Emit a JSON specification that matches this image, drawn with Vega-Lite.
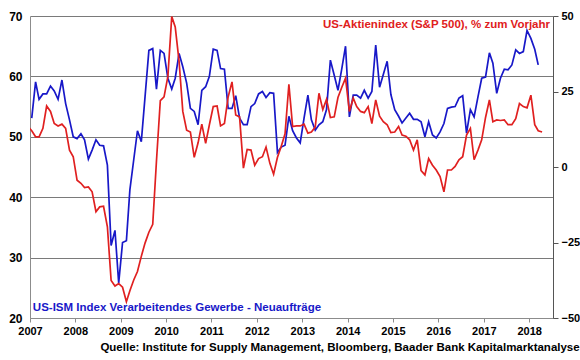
{
  "$schema": "https://vega.github.io/schema/vega-lite/v6.json",
  "width": 523,
  "height": 302,
  "autosize": {"type": "none"},
  "padding": {"left": 30, "top": 16, "right": 27, "bottom": 42},
  "background": "white",
  "config": {"view": {"stroke": null}, "font": "Liberation Sans"},
  "title": {
    "text": "Quelle: Institute for Supply Management, Bloomberg, Baader Bank Kapitalmarktanalyse",
    "orient": "bottom",
    "anchor": "end",
    "frame": "bounds",
    "font": "Liberation Sans",
    "fontSize": 11.5,
    "fontWeight": "bold",
    "color": "#000000",
    "offset": 6
  },
  "datasets": {
    "ism": [
      {"date": "2007-01-15", "value": 53.1}, {"date": "2007-02-15", "value": 59.1}, {"date": "2007-03-15", "value": 56.2}, {"date": "2007-04-15", "value": 57.1}, {"date": "2007-05-15", "value": 57.1}, {"date": "2007-06-15", "value": 58.4}, {"date": "2007-07-15", "value": 57.6}, {"date": "2007-08-15", "value": 56.2}, {"date": "2007-09-15", "value": 59.4}, {"date": "2007-10-15", "value": 55.5}, {"date": "2007-11-15", "value": 52.8}, {"date": "2007-12-15", "value": 50.0},
      {"date": "2008-01-15", "value": 49.7}, {"date": "2008-02-15", "value": 50.5}, {"date": "2008-03-15", "value": 49.5}, {"date": "2008-04-15", "value": 46.3}, {"date": "2008-05-15", "value": 47.8}, {"date": "2008-06-15", "value": 49.5}, {"date": "2008-07-15", "value": 48.6}, {"date": "2008-08-15", "value": 48.5}, {"date": "2008-09-15", "value": 45.3}, {"date": "2008-10-15", "value": 32.0}, {"date": "2008-11-15", "value": 34.5}, {"date": "2008-12-15", "value": 25.8},
      {"date": "2009-01-15", "value": 32.5}, {"date": "2009-02-15", "value": 32.8}, {"date": "2009-03-15", "value": 41.2}, {"date": "2009-04-15", "value": 46.2}, {"date": "2009-05-15", "value": 51.0}, {"date": "2009-06-15", "value": 49.2}, {"date": "2009-07-15", "value": 56.6}, {"date": "2009-08-15", "value": 64.3}, {"date": "2009-09-15", "value": 64.6}, {"date": "2009-10-15", "value": 57.9}, {"date": "2009-11-15", "value": 64.3}, {"date": "2009-12-15", "value": 63.8},
      {"date": "2010-01-15", "value": 59.7}, {"date": "2010-02-15", "value": 57.9}, {"date": "2010-03-15", "value": 59.7}, {"date": "2010-04-15", "value": 63.8}, {"date": "2010-05-15", "value": 61.6}, {"date": "2010-06-15", "value": 58.9}, {"date": "2010-07-15", "value": 54.7}, {"date": "2010-08-15", "value": 54.2}, {"date": "2010-09-15", "value": 52.0}, {"date": "2010-10-15", "value": 57.7}, {"date": "2010-11-15", "value": 58.3}, {"date": "2010-12-15", "value": 60.0},
      {"date": "2011-01-15", "value": 64.5}, {"date": "2011-02-15", "value": 64.3}, {"date": "2011-03-15", "value": 61.3}, {"date": "2011-04-15", "value": 61.2}, {"date": "2011-05-15", "value": 54.7}, {"date": "2011-06-15", "value": 54.7}, {"date": "2011-07-15", "value": 56.8}, {"date": "2011-08-15", "value": 53.1}, {"date": "2011-09-15", "value": 52.0}, {"date": "2011-10-15", "value": 52.0}, {"date": "2011-11-15", "value": 55.0}, {"date": "2011-12-15", "value": 55.5},
      {"date": "2012-01-15", "value": 57.1}, {"date": "2012-02-15", "value": 57.5}, {"date": "2012-03-15", "value": 56.5}, {"date": "2012-04-15", "value": 57.3}, {"date": "2012-05-15", "value": 57.2}, {"date": "2012-06-15", "value": 47.4}, {"date": "2012-07-15", "value": 48.3}, {"date": "2012-08-15", "value": 48.6}, {"date": "2012-09-15", "value": 53.4}, {"date": "2012-10-15", "value": 51.0}, {"date": "2012-11-15", "value": 49.8}, {"date": "2012-12-15", "value": 49.0},
      {"date": "2013-01-15", "value": 53.1}, {"date": "2013-02-15", "value": 56.9}, {"date": "2013-03-15", "value": 52.8}, {"date": "2013-04-15", "value": 51.1}, {"date": "2013-05-15", "value": 52.0}, {"date": "2013-06-15", "value": 52.5}, {"date": "2013-07-15", "value": 54.5}, {"date": "2013-08-15", "value": 62.7}, {"date": "2013-09-15", "value": 60.2}, {"date": "2013-10-15", "value": 57.7}, {"date": "2013-11-15", "value": 61.3}, {"date": "2013-12-15", "value": 65.0},
      {"date": "2014-01-15", "value": 53.3}, {"date": "2014-02-15", "value": 56.9}, {"date": "2014-03-15", "value": 56.9}, {"date": "2014-04-15", "value": 56.4}, {"date": "2014-05-15", "value": 57.7}, {"date": "2014-06-15", "value": 56.4}, {"date": "2014-07-15", "value": 57.5}, {"date": "2014-08-15", "value": 65.2}, {"date": "2014-09-15", "value": 58.2}, {"date": "2014-10-15", "value": 60.3}, {"date": "2014-11-15", "value": 62.5}, {"date": "2014-12-15", "value": 57.0},
      {"date": "2015-01-15", "value": 54.5}, {"date": "2015-02-15", "value": 53.4}, {"date": "2015-03-15", "value": 52.3}, {"date": "2015-04-15", "value": 53.1}, {"date": "2015-05-15", "value": 53.9}, {"date": "2015-06-15", "value": 52.9}, {"date": "2015-07-15", "value": 52.9}, {"date": "2015-08-15", "value": 52.5}, {"date": "2015-09-15", "value": 50.0}, {"date": "2015-10-15", "value": 52.5}, {"date": "2015-11-15", "value": 50.3}, {"date": "2015-12-15", "value": 49.8},
      {"date": "2016-01-15", "value": 50.8}, {"date": "2016-02-15", "value": 52.2}, {"date": "2016-03-15", "value": 54.7}, {"date": "2016-04-15", "value": 54.9}, {"date": "2016-05-15", "value": 55.0}, {"date": "2016-06-15", "value": 56.4}, {"date": "2016-07-15", "value": 56.8}, {"date": "2016-08-15", "value": 50.6}, {"date": "2016-09-15", "value": 54.5}, {"date": "2016-10-15", "value": 53.3}, {"date": "2016-11-15", "value": 56.6}, {"date": "2016-12-15", "value": 59.7},
      {"date": "2017-01-15", "value": 59.9}, {"date": "2017-02-15", "value": 63.9}, {"date": "2017-03-15", "value": 62.2}, {"date": "2017-04-15", "value": 57.2}, {"date": "2017-05-15", "value": 59.7}, {"date": "2017-06-15", "value": 61.2}, {"date": "2017-07-15", "value": 61.1}, {"date": "2017-08-15", "value": 61.9}, {"date": "2017-09-15", "value": 64.4}, {"date": "2017-10-15", "value": 63.8}, {"date": "2017-11-15", "value": 64.1}, {"date": "2017-12-15", "value": 67.6},
      {"date": "2018-01-15", "value": 66.3}, {"date": "2018-02-15", "value": 64.5}, {"date": "2018-03-15", "value": 61.9}
    ],
    "spx": [
      {"date": "2006-12-15", "value": 13.4},
      {"date": "2007-01-15", "value": 12.0}, {"date": "2007-02-15", "value": 10.0}, {"date": "2007-03-15", "value": 10.0}, {"date": "2007-04-15", "value": 12.8}, {"date": "2007-05-15", "value": 20.2}, {"date": "2007-06-15", "value": 18.4}, {"date": "2007-07-15", "value": 14.4}, {"date": "2007-08-15", "value": 13.6}, {"date": "2007-09-15", "value": 14.2}, {"date": "2007-10-15", "value": 12.8}, {"date": "2007-11-15", "value": 5.6}, {"date": "2007-12-15", "value": 3.4},
      {"date": "2008-01-15", "value": -4.4}, {"date": "2008-02-15", "value": -5.4}, {"date": "2008-03-15", "value": -6.8}, {"date": "2008-04-15", "value": -6.6}, {"date": "2008-05-15", "value": -8.2}, {"date": "2008-06-15", "value": -14.8}, {"date": "2008-07-15", "value": -13.2}, {"date": "2008-08-15", "value": -13.0}, {"date": "2008-09-15", "value": -19.8}, {"date": "2008-10-15", "value": -37.6}, {"date": "2008-11-15", "value": -39.4}, {"date": "2008-12-15", "value": -38.6},
      {"date": "2009-01-15", "value": -39.8}, {"date": "2009-02-15", "value": -44.6}, {"date": "2009-03-15", "value": -41.0}, {"date": "2009-04-15", "value": -37.4}, {"date": "2009-05-15", "value": -34.6}, {"date": "2009-06-15", "value": -29.6}, {"date": "2009-07-15", "value": -25.2}, {"date": "2009-08-15", "value": -21.6}, {"date": "2009-09-15", "value": -19.0}, {"date": "2009-10-15", "value": 2.0}, {"date": "2009-11-15", "value": 22.0}, {"date": "2009-12-15", "value": 23.2},
      {"date": "2010-01-15", "value": 30.0}, {"date": "2010-02-15", "value": 49.8}, {"date": "2010-03-15", "value": 46.4}, {"date": "2010-04-15", "value": 35.0}, {"date": "2010-05-15", "value": 18.4}, {"date": "2010-06-15", "value": 12.2}, {"date": "2010-07-15", "value": 11.6}, {"date": "2010-08-15", "value": 3.2}, {"date": "2010-09-15", "value": 8.0}, {"date": "2010-10-15", "value": 14.2}, {"date": "2010-11-15", "value": 7.8}, {"date": "2010-12-15", "value": 14.0},
      {"date": "2011-01-15", "value": 20.0}, {"date": "2011-02-15", "value": 20.2}, {"date": "2011-03-15", "value": 13.6}, {"date": "2011-04-15", "value": 14.4}, {"date": "2011-05-15", "value": 23.2}, {"date": "2011-06-15", "value": 28.2}, {"date": "2011-07-15", "value": 17.2}, {"date": "2011-08-15", "value": 16.6}, {"date": "2011-09-15", "value": -0.4}, {"date": "2011-10-15", "value": 5.8}, {"date": "2011-11-15", "value": 5.6}, {"date": "2011-12-15", "value": 0.6},
      {"date": "2012-01-15", "value": 2.8}, {"date": "2012-02-15", "value": 3.4}, {"date": "2012-03-15", "value": 6.6}, {"date": "2012-04-15", "value": 1.2}, {"date": "2012-05-15", "value": -2.4}, {"date": "2012-06-15", "value": 3.2}, {"date": "2012-07-15", "value": 6.8}, {"date": "2012-08-15", "value": 11.0}, {"date": "2012-09-15", "value": 27.4}, {"date": "2012-10-15", "value": 13.4}, {"date": "2012-11-15", "value": 13.6}, {"date": "2012-12-15", "value": 13.6},
      {"date": "2013-01-15", "value": 14.2}, {"date": "2013-02-15", "value": 11.2}, {"date": "2013-03-15", "value": 11.6}, {"date": "2013-04-15", "value": 13.2}, {"date": "2013-05-15", "value": 24.4}, {"date": "2013-06-15", "value": 19.0}, {"date": "2013-07-15", "value": 22.4}, {"date": "2013-08-15", "value": 16.4}, {"date": "2013-09-15", "value": 16.6}, {"date": "2013-10-15", "value": 23.0}, {"date": "2013-11-15", "value": 26.4}, {"date": "2013-12-15", "value": 29.4},
      {"date": "2014-01-15", "value": 18.4}, {"date": "2014-02-15", "value": 22.8}, {"date": "2014-03-15", "value": 20.0}, {"date": "2014-04-15", "value": 18.4}, {"date": "2014-05-15", "value": 18.0}, {"date": "2014-06-15", "value": 20.0}, {"date": "2014-07-15", "value": 14.4}, {"date": "2014-08-15", "value": 22.2}, {"date": "2014-09-15", "value": 16.8}, {"date": "2014-10-15", "value": 15.0}, {"date": "2014-11-15", "value": 14.0}, {"date": "2014-12-15", "value": 11.4},
      {"date": "2015-01-15", "value": 11.6}, {"date": "2015-02-15", "value": 13.4}, {"date": "2015-03-15", "value": 10.6}, {"date": "2015-04-15", "value": 10.2}, {"date": "2015-05-15", "value": 9.0}, {"date": "2015-06-15", "value": 5.6}, {"date": "2015-07-15", "value": 9.0}, {"date": "2015-08-15", "value": -1.2}, {"date": "2015-09-15", "value": -2.6}, {"date": "2015-10-15", "value": 2.8}, {"date": "2015-11-15", "value": 0.6}, {"date": "2015-12-15", "value": -1.0},
      {"date": "2016-01-15", "value": -3.2}, {"date": "2016-02-15", "value": -8.2}, {"date": "2016-03-15", "value": -1.0}, {"date": "2016-04-15", "value": -1.0}, {"date": "2016-05-15", "value": 0.2}, {"date": "2016-06-15", "value": 2.4}, {"date": "2016-07-15", "value": 3.4}, {"date": "2016-08-15", "value": 10.6}, {"date": "2016-09-15", "value": 12.8}, {"date": "2016-10-15", "value": 2.4}, {"date": "2016-11-15", "value": 5.6}, {"date": "2016-12-15", "value": 9.0},
      {"date": "2017-01-15", "value": 16.4}, {"date": "2017-02-15", "value": 22.2}, {"date": "2017-03-15", "value": 15.0}, {"date": "2017-04-15", "value": 15.6}, {"date": "2017-05-15", "value": 15.4}, {"date": "2017-06-15", "value": 15.6}, {"date": "2017-07-15", "value": 14.0}, {"date": "2017-08-15", "value": 14.0}, {"date": "2017-09-15", "value": 16.0}, {"date": "2017-10-15", "value": 21.0}, {"date": "2017-11-15", "value": 20.0}, {"date": "2017-12-15", "value": 19.6},
      {"date": "2018-01-15", "value": 23.8}, {"date": "2018-02-15", "value": 14.0}, {"date": "2018-03-15", "value": 12.0}, {"date": "2018-04-15", "value": 11.6}
    ]
  },
  "layer": [
    {
      "layer": [
        {
          "data": {"name": "ism"},
          "mark": {"type": "line", "color": "#1818c8", "strokeWidth": 1.7, "clip": true},
          "encoding": {
            "x": {
              "field": "date", "type": "temporal",
              "scale": {"type": "utc", "domain": [{"year": 2007, "month": 1, "date": 1, "utc": true}, {"year": 2018, "month": 7, "date": 12, "utc": true}]},
              "axis": {
                "title": null, "format": "%Y", "formatType": "utc",
                "values": [
                  {"year": 2007, "month": 1, "date": 1, "utc": true}, {"year": 2008, "month": 1, "date": 1, "utc": true}, {"year": 2009, "month": 1, "date": 1, "utc": true}, {"year": 2010, "month": 1, "date": 1, "utc": true}, {"year": 2011, "month": 1, "date": 1, "utc": true}, {"year": 2012, "month": 1, "date": 1, "utc": true}, {"year": 2013, "month": 1, "date": 1, "utc": true}, {"year": 2014, "month": 1, "date": 1, "utc": true}, {"year": 2015, "month": 1, "date": 1, "utc": true}, {"year": 2016, "month": 1, "date": 1, "utc": true}, {"year": 2017, "month": 1, "date": 1, "utc": true}, {"year": 2018, "month": 1, "date": 1, "utc": true}
                ],
                "grid": false, "domainColor": "#8c8c8c", "tickColor": "#8c8c8c", "tickSize": 4,
                "labelFont": "Liberation Sans", "labelFontWeight": "bold", "labelFontSize": 11, "labelColor": "#000000", "labelPadding": 3,
                "labelFlush": false, "labelOverlap": false
              }
            },
            "y": {
              "field": "value", "type": "quantitative",
              "scale": {"domain": [20, 70], "nice": false, "zero": false},
              "axis": {
                "title": null, "values": [20, 30, 40, 50, 60, 70], "grid": true, "gridColor": "#7a7a7a", "gridWidth": 1,
                "ticks": false, "tickSize": 0, "domainColor": "#8c8c8c",
                "labelFont": "Liberation Sans", "labelFontWeight": "bold", "labelFontSize": 12, "labelColor": "#000000", "labelPadding": 8
              }
            }
          }
        },
        {
          "data": {"values": [{}]},
          "mark": {"type": "text", "text": "US-ISM Index Verarbeitendes Gewerbe - Neuaufträge", "align": "left", "baseline": "middle", "font": "Liberation Sans", "fontWeight": "bold", "fontSize": 11.5, "color": "#1818c8"},
          "encoding": {
            "x": {"datum": {"year": 2007, "month": 1, "date": 24, "utc": true}, "type": "temporal"},
            "y": {"datum": 21.6, "type": "quantitative"}
          }
        },
        {
          "data": {"values": [{}]},
          "mark": {"type": "text", "text": "US-Aktienindex (S&P 500), % zum Vorjahr", "align": "right", "baseline": "middle", "font": "Liberation Sans", "fontWeight": "bold", "fontSize": 11.5, "color": "#e02020"},
          "encoding": {
            "x": {"datum": {"year": 2018, "month": 6, "date": 18, "utc": true}, "type": "temporal"},
            "y": {"datum": 68.5, "type": "quantitative"}
          }
        }
      ]
    },
    {
      "data": {"name": "spx"},
      "mark": {"type": "line", "color": "#e02020", "strokeWidth": 1.7, "clip": true},
      "encoding": {
        "x": {"field": "date", "type": "temporal"},
        "y": {
          "field": "value", "type": "quantitative",
          "scale": {"domain": [-50, 50], "nice": false, "zero": false},
          "axis": {
            "title": null, "orient": "right", "values": [-50, -25, 0, 25, 50], "grid": false,
            "ticks": true, "tickSize": 5, "tickColor": "#555555", "domainColor": "#555555",
            "labelFont": "Liberation Sans", "labelFontWeight": "bold", "labelFontSize": 11, "labelColor": "#000000", "labelPadding": 3
          }
        }
      }
    }
  ],
  "resolve": {"scale": {"y": "independent"}}
}
